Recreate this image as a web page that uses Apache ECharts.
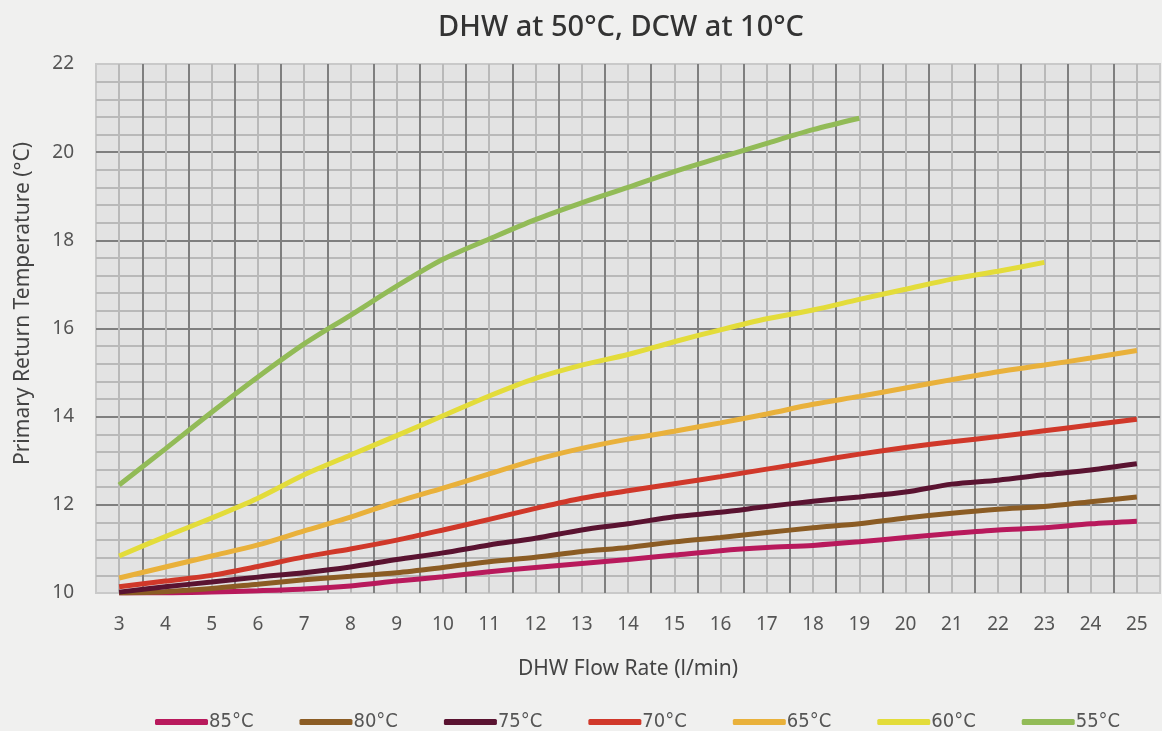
<!DOCTYPE html>
<html>
<head>
<meta charset="utf-8">
<title>DHW at 50°C, DCW at 10°C</title>
<script src="https://cdn.jsdelivr.net/npm/echarts@6/dist/echarts.min.js"></script>
<style>
    html, body { margin: 0; padding: 0; background: #f0f0ef; }
    #chart { width: 1162px; height: 731px; }
</style>
</head>
<body>
<div id="chart"></div>
<script>
// flow rate l/min
var flowRate = [3, 4, 5, 6, 7, 8, 9, 10, 11, 12, 13, 14, 15, 16, 17, 18, 19, 20, 21, 22, 23, 24, 25];
var legendNames = ["85°C", "80°C", "75°C", "70°C", "65°C", "60°C", "55°C"];
var lineColors = ["#b8195c", "#8b5c24", "#5a1331", "#d0382a", "#e9b13b", "#e3dc3a", "#92bb57"];

// primary return temperature (°C)
var t85 = [10.0, 10.0, 10.02, 10.05, 10.09, 10.16, 10.27, 10.37, 10.48, 10.58, 10.67, 10.76, 10.86, 10.96, 11.03, 11.08, 11.16, 11.26, 11.35, 11.43, 11.48, 11.57, 11.63];
var t80 = [10.0, 10.03, 10.1, 10.2, 10.3, 10.38, 10.46, 10.58, 10.71, 10.81, 10.94, 11.03, 11.16, 11.26, 11.37, 11.48, 11.57, 11.7, 11.81, 11.9, 11.96, 12.07, 12.18];
var t75 = [10.02, 10.14, 10.25, 10.36, 10.46, 10.59, 10.76, 10.91, 11.09, 11.24, 11.43, 11.57, 11.73, 11.83, 11.96, 12.08, 12.18, 12.29, 12.47, 12.56, 12.68, 12.79, 12.93];
var t70 = [10.14, 10.27, 10.4, 10.6, 10.82, 11.0, 11.2, 11.43, 11.67, 11.92, 12.15, 12.32, 12.48, 12.64, 12.81, 12.98, 13.15, 13.3, 13.43, 13.55, 13.68, 13.81, 13.94];
var t65 = [10.34, 10.59, 10.84, 11.09, 11.41, 11.72, 12.07, 12.38, 12.7, 13.02, 13.28, 13.49, 13.67, 13.86, 14.06, 14.28, 14.46, 14.65, 14.84, 15.02, 15.17, 15.33, 15.5];
var t60 = [10.84, 11.28, 11.7, 12.15, 12.68, 13.13, 13.57, 14.02, 14.47, 14.87, 15.17, 15.41, 15.7, 15.97, 16.22, 16.42, 16.66, 16.89, 17.12, 17.3, 17.5];
var t55 = [12.45, 13.27, 14.1, 14.9, 15.65, 16.3, 16.96, 17.57, 18.03, 18.47, 18.85, 19.2, 19.56, 19.88, 20.2, 20.51, 20.77];

var allData = [t85, t80, t75, t70, t65, t60, t55];

(function() {
    var chart = echarts.init(document.getElementById("chart"));
    var font = "'Noto Sans', 'Open Sans', sans-serif";

    var series = allData.map(function(values, i) {
        return {
            name: legendNames[i],
            type: "line",
            smooth: 0.3,
            symbol: "none",
            clip: false,
            lineStyle: { color: lineColors[i], width: 5 },
            itemStyle: { color: lineColors[i] },
            data: values.map(function(v, j) { return [flowRate[j], v]; })
        };
    });

    var option = {
        backgroundColor: "#f0f0ef",
        title: {
            text: "DHW at 50°C, DCW at 10°C",
            left: 433,
            top: 8,
            textStyle: { fontFamily: font, fontSize: 29, fontWeight: 500, color: "#333" }
        },
        legend: {
            bottom: -6,
            left: 150,
            icon: "roundRect",
            itemWidth: 53,
            itemHeight: 6,
            itemGap: 46,
            textStyle: { fontFamily: "'DejaVu Sans Condensed', 'DejaVu Sans', sans-serif", fontSize: 20, color: "#555", padding: [0, 0, 0, -4] },
            data: legendNames
        },
        grid: {
            left: 96,
            right: 2,
            top: 64,
            bottom: 138,
            outerBoundsMode: "none",
            containLabel: false,
            show: true,
            backgroundColor: "#e3e3e3",
            borderColor: "#c9c9c9",
            borderWidth: 2
        },
        xAxis: {
            type: "value",
            min: 2.5,
            max: 25.5,
            interval: 0.5,
            name: "DHW Flow Rate (l/min)",
            nameLocation: "middle",
            nameGap: 66,
            nameTextStyle: { fontFamily: font, fontSize: 21, color: "#444" },
            axisLine: { show: false },
            axisTick: { show: false },
            axisLabel: {
                margin: 22,
                fontFamily: font,
                fontSize: 19,
                color: "#555",
                formatter: function(v) { return v % 1 === 0 ? v : ""; }
            },
            splitLine: {
                show: true,
                showMinLine: false,
                showMaxLine: false,
                lineStyle: { color: ["#b9b9b9", "#7f7f7f"], width: 2 }
            }
        },
        yAxis: {
            type: "value",
            min: 10,
            max: 22,
            interval: 2,
            name: "Primary Return Temperature (°C)",
            nameLocation: "middle",
            nameGap: 62,
            nameTextStyle: { fontFamily: font, fontSize: 21, color: "#444", padding: [0, 0, 0, 50] },
            axisLine: { show: false },
            axisTick: { show: false },
            axisLabel: { margin: 22, fontFamily: font, fontSize: 19, color: "#555" },
            splitLine: {
                show: true,
                showMinLine: false,
                showMaxLine: false,
                lineStyle: { color: "#7f7f7f", width: 2 }
            },
            minorTick: { show: false, splitNumber: 5 },
            minorSplitLine: { show: true, lineStyle: { color: "#b9b9b9", width: 2 } }
        },
        series: series
    };

    chart.setOption(option);
}());
</script>
</body>
</html>
